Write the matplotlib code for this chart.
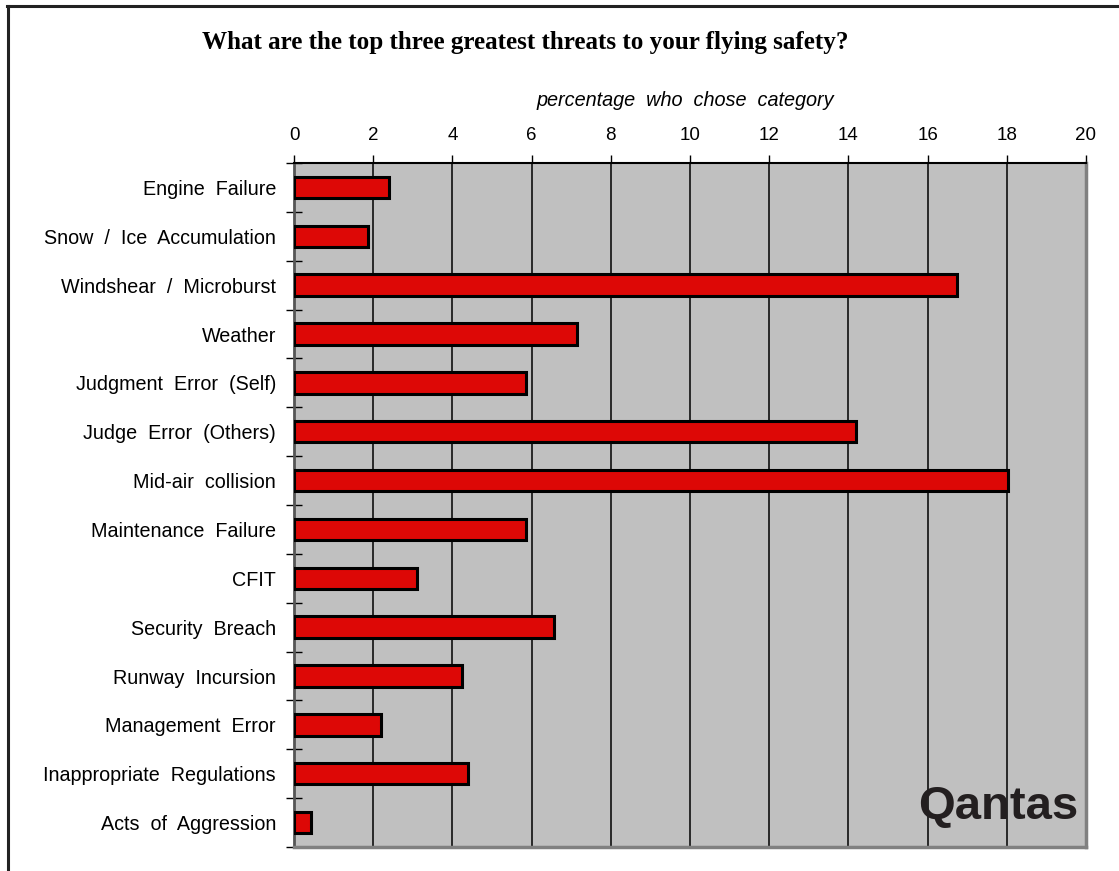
import matplotlib
matplotlib.use("Agg")
import matplotlib.pyplot as plt
from matplotlib.lines import Line2D

categories = [
    "Engine  Failure",
    "Snow  /  Ice  Accumulation",
    "Windshear  /  Microburst",
    "Weather",
    "Judgment  Error  (Self)",
    "Judge  Error  (Others)",
    "Mid-air  collision",
    "Maintenance  Failure",
    "CFIT",
    "Security  Breach",
    "Runway  Incursion",
    "Management  Error",
    "Inappropriate  Regulations",
    "Acts  of  Aggression",
]
values = [2.4, 1.87, 16.74, 7.15, 5.86, 14.2, 18.03, 5.86, 3.1, 6.57, 4.24, 2.2, 4.39, 0.43]
x_ticks = [0, 2, 4, 6, 8, 10, 12, 14, 16, 18, 20]

W, H = 1119, 871
fig = plt.figure(figsize=(W / 100, H / 100), dpi=100)
plt.rcParams['font.family'] = ['Liberation Sans', 'DejaVu Sans']

# outer frame (top and left visible)
fig.add_artist(Line2D([7 / W, 1.0], [1 - 6 / H, 1 - 6 / H], transform=fig.transFigure,
                      color='#222222', lw=2.2))
fig.add_artist(Line2D([7.5 / W, 7.5 / W], [0, 1 - 6 / H], transform=fig.transFigure,
                      color='#222222', lw=2.2))

left, right, top, bottom = 294, 1086, 163, 847
ax = fig.add_axes([left / W, 1 - bottom / H, (right - left) / W, (bottom - top) / H])
ax.set_facecolor('#c0c0c0')

ypos = list(range(len(categories)))
ax.barh(ypos, values, height=0.44, color='#dd0806', edgecolor='black', linewidth=2.2, zorder=3)

ax.set_xlim(0, 20)
ax.set_ylim(len(categories) - 0.5, -0.5)

for xv in x_ticks[1:-1]:
    ax.axvline(xv, color='black', lw=1.1, zorder=1)

ax.xaxis.tick_top()
ax.set_xticks(x_ticks)
ax.set_xticklabels([str(v) for v in x_ticks], fontsize=13.5)
ax.tick_params(axis='x', direction='out', length=6, width=1, pad=8, color='black')

ax.set_yticks(ypos)
ax.set_yticklabels(categories, fontsize=14.2)
ax.tick_params(axis='y', which='major', length=0, pad=13)
ax.set_yticks([i - 0.5 for i in range(len(categories) + 1)], minor=True)
ax.tick_params(axis='y', which='minor', direction='inout', length=11, width=1, color='black')

for s in ['right', 'bottom']:
    ax.spines[s].set_color('#808080')
    ax.spines[s].set_linewidth(2.5)
ax.spines['top'].set_color('black')
ax.spines['top'].set_linewidth(1.5)
ax.spines['left'].set_color('#555555')
ax.spines['left'].set_linewidth(2)

fig.text(525 / W, 1 - 43 / H, "What are the top three greatest threats to your flying safety?",
         ha='center', va='center', fontsize=18.1, fontweight='bold', family='Liberation Serif')
fig.text(685 / W, 1 - 100 / H, "percentage  who  chose  category", ha='center', va='center',
         fontsize=14.3, style='italic')

ax.text(0.99, 0.027, "Qantas", transform=ax.transAxes, ha='right', va='bottom',
        fontsize=34, fontweight='bold', color='#231f20', zorder=5)

fig.savefig("out.png", dpi=100)
